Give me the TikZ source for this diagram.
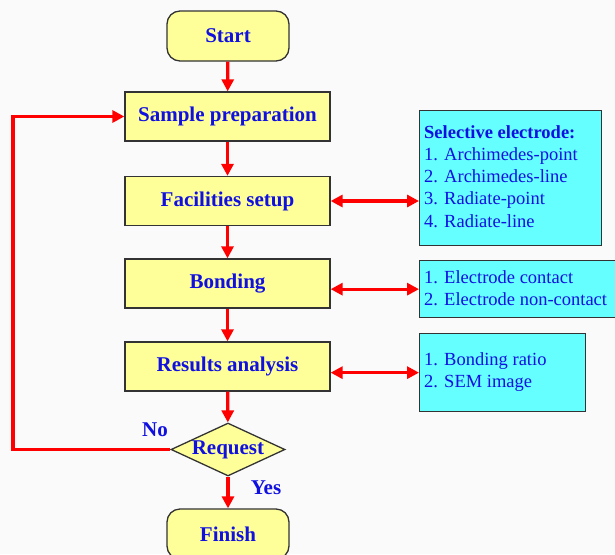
\documentclass[tikz,border=0pt]{standalone}
\usepackage{fontspec}
\setmainfont{Liberation Serif}
\usetikzlibrary{shapes.geometric,arrows.meta,calc}
\definecolor{boxyel}{HTML}{FFFF99}
\definecolor{boxcyan}{HTML}{66FFFF}
\definecolor{txtblue}{HTML}{1010E0}
\definecolor{edge}{HTML}{333333}
\tikzset{
  mainbox/.style={draw=edge,line width=1.3pt,fill=boxyel,minimum width=205pt,minimum height=49pt,inner sep=0pt,font=\fontsize{21}{24}\selectfont\bfseries,text=txtblue},
  termbox/.style={mainbox,rounded corners=13pt,minimum width=122pt,minimum height=50pt},
  decision/.style={draw=edge,line width=1.3pt,fill=boxyel,diamond,aspect=2.15,minimum width=114pt,minimum height=53pt,inner sep=0pt,font=\fontsize{21}{24}\selectfont\bfseries,text=txtblue},
  infobox/.style={draw=edge,line width=1.3pt,fill=boxcyan,anchor=north west,inner sep=0pt},
  infotext/.style={anchor=north west,text=txtblue,font=\fontsize{18.5}{22.3}\selectfont,align=left,inner sep=0pt},
  flow/.style={draw=red,line width=3.2pt,-{Triangle[length=12pt,width=12pt]}},
  both/.style={draw=red,line width=3.2pt,{Triangle[length=12pt,width=12pt]}-{Triangle[length=12pt,width=12pt]}},
  lab/.style={font=\fontsize{21}{24}\selectfont\bfseries,text=txtblue}
}
\begin{document}
\begin{tikzpicture}[x=1pt,y=-1pt]
\useasboundingbox (0,0) rectangle (615,554);
\fill[white!98!black] (0,0) rectangle (615,554);
\node[termbox] (start) at (228,36) {Start};
\node[mainbox] (prep) at (227.5,116.5) {Sample preparation};
\node[mainbox] (fac) at (227.5,201) {Facilities setup};
\node[mainbox] (bond) at (227.5,283.5) {Bonding};
\node[mainbox] (res) at (227.5,366.5) {Results analysis};
\node[decision] (req) at (228,449.5) {Request};
\node[termbox] (fin) at (228,534) {Finish};
\node[infobox,minimum width=182pt,minimum height=135pt] (sel) at (419,110) {};
\node[infotext] (seltxt) at (424,125) {\textbf{Selective electrode:}\\1. Archimedes-point\\2. Archimedes-line\\3. Radiate-point\\4. Radiate-line};
\node[infobox,minimum width=200pt,minimum height=57pt] (elec) at (419,260) {};
\node[infotext] (electxt) at (424,270) {1. Electrode contact\\2. Electrode non-contact};
\node[infobox,minimum width=166pt,minimum height=78pt] (rbox) at (419,333) {};
\node[infotext] (rtxt) at (424,352.5) {1. Bonding ratio\\2. SEM image};
\draw[flow] (start) -- (prep);
\draw[flow] (prep) -- (fac);
\draw[flow] (fac) -- (bond);
\draw[flow] (bond) -- (res);
\draw[flow] (res) -- (req);
\draw[flow] (req) -- (fin);
\coordinate (lx) at (13,0);
\draw[flow] (req.west) -- (lx |- req.west) -- (lx |- prep.west) -- (prep.west);
\draw[both] (fac.east) -- (fac.east -| sel.west);
\draw[both] (bond.east |- elec.west) -- (elec.west);
\draw[both] (res.east |- rbox.west) -- (rbox.west);
\node[lab] (no) at (155,430) {No};
\node[lab] (yes) at (266,488) {Yes};
\end{tikzpicture}
\end{document}
